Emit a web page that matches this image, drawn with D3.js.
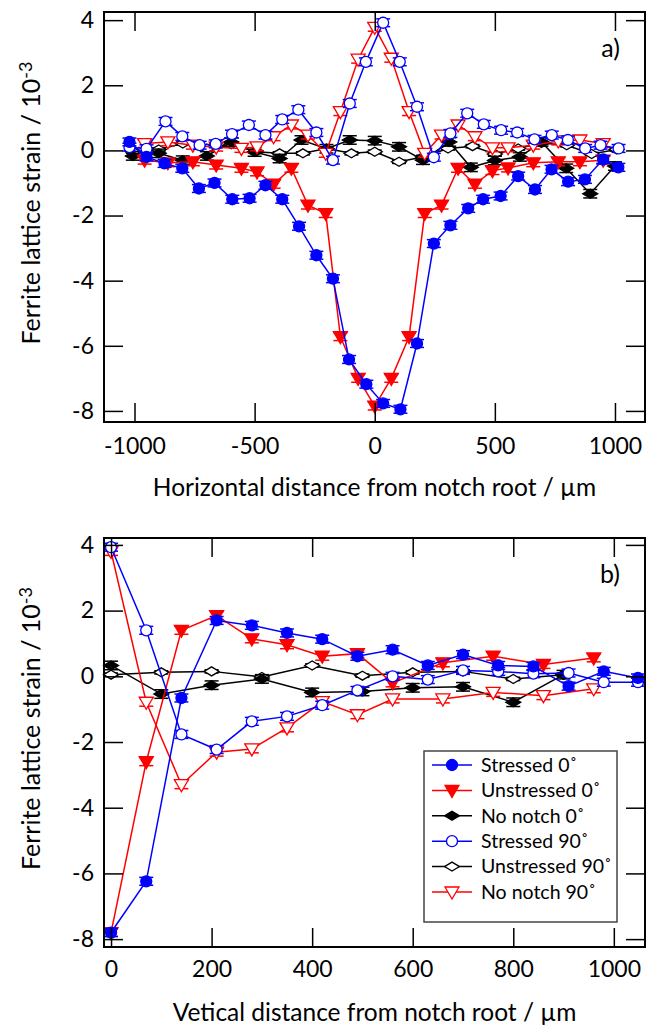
<!DOCTYPE html>
<html>
<head>
<meta charset="utf-8">
<script src="https://cdn.jsdelivr.net/npm/d3@7"></script>
<style>
    body { margin: 0; background: #fff; }
    text { font-family: Lato, "Open Sans", sans-serif; fill: #000; }
</style>
</head>
<body>
<div id="chart"></div>
<script>
// ---- panel a) : horizontal distance ----
var topStressed0X = [-1021, -950, -875, -801, -732, -667, -593, -521, -455, -385, -315, -243, -174, -107, -35, 35, 107, 176, 246, 315, 389, 451, 524, 597, 667, 736, 805, 875, 951, 1014];
var topStressed0Y = [0.26, -0.2, -0.4, -0.55, -1.17, -1.0, -1.5, -1.47, -1.07, -1.5, -2.33, -3.22, -3.94, -6.42, -7.18, -7.77, -7.95, -5.93, -2.86, -2.3, -1.78, -1.5, -1.4, -0.79, -1.2, -0.58, -0.96, -0.89, -0.28, -0.52];
var topUnstressed0X = [-958, -861, -757, -660, -555, -490, -421, -347, -278, -204, -143, -69, 0, 69, 143, 208, 278, 347, 417, 490, 555, 660, 764, 854, 951];
var topUnstressed0Y = [-0.3, -0.38, -0.35, -0.45, -0.55, -0.66, -1.04, -0.55, -1.68, -1.94, -5.72, -7.0, -7.85, -7.0, -5.72, -1.94, -1.68, -0.55, -1.04, -0.62, -0.54, -0.38, -0.35, -0.35, -0.3];
var topNoNotch0X = [-1007, -899, -799, -699, -597, -500, -396, -305, -201, -104, 0, 101, 201, 310, 400, 500, 604, 694, 797, 897, 1000];
var topNoNotch0Y = [-0.17, -0.09, -0.3, -0.17, 0.26, -0.05, -0.25, 0.32, 0.05, 0.32, 0.3, 0.11, -0.3, 0.26, -0.52, -0.31, -0.2, 0.26, -0.55, -1.33, -0.48];
var topStressed90X = [-1021, -950, -871, -801, -729, -662, -594, -524, -455, -385, -318, -243, -174, -104, -37, 35, 104, 176, 246, 315, 385, 454, 526, 593, 665, 737, 804, 876, 940, 1015];
var topStressed90Y = [0.1, 0.05, 0.89, 0.43, 0.16, 0.2, 0.5, 0.78, 0.47, 0.95, 1.25, 0.55, -0.3, 1.44, 2.72, 3.92, 2.72, 1.34, -0.21, 0.52, 1.14, 0.8, 0.62, 0.55, 0.34, 0.47, 0.32, 0.06, 0.16, 0.06];
var topUnstressed90X = [-1007, -899, -799, -699, -597, -496, -396, -299, -201, -97, 0, 101, 201, 305, 407, 500, 597, 694, 799, 903, 1007];
var topUnstressed90Y = [-0.04, 0.03, 0.21, 0.06, 0.19, -0.04, -0.09, -0.09, 0.06, -0.09, -0.04, -0.35, -0.2, 0.06, 0.13, -0.11, 0.06, 0.23, 0.16, -0.11, 0.03];
var topNoNotch90X = [-958, -861, -757, -660, -555, -490, -421, -347, -278, -204, -143, -69, 0, 69, 143, 208, 278, 347, 417, 490, 555, 660, 764, 854, 951];
var topNoNotch90Y = [0.21, 0.26, 0.16, 0.1, 0.06, 0.11, 0.42, 0.78, 0.47, -0.09, 1.19, 2.8, 3.78, 2.83, 1.19, -0.09, 0.47, 0.78, 0.42, 0.08, 0.08, 0.16, 0.29, 0.32, 0.21];

// ---- panel b) : vertical distance ----
var botStressed0X = [0, 70, 140, 210, 280, 350, 420, 490, 560, 630, 700, 770, 840, 910, 980, 1048];
var botStressed0Y = [-7.8, -6.24, -0.66, 1.7, 1.55, 1.32, 1.13, 0.61, 0.81, 0.33, 0.66, 0.33, 0.3, -0.3, 0.15, -0.05];
var botUnstressed0X = [0, 70, 140, 210, 280, 350, 420, 490, 560, 660, 760, 860, 960];
var botUnstressed0Y = [-7.8, -2.6, 1.4, 1.85, 1.14, 0.96, 0.61, 0.69, -0.2, 0.41, 0.61, 0.36, 0.56];
var botNoNotch0X = [0, 100, 200, 300, 400, 500, 600, 700, 800, 900];
var botNoNotch0Y = [0.33, -0.54, -0.27, -0.08, -0.49, -0.46, -0.35, -0.32, -0.79, 0.05];
var botStressed90X = [0, 70, 140, 210, 280, 350, 420, 490, 560, 630, 700, 770, 840, 910, 980, 1048];
var botStressed90Y = [3.93, 1.4, -1.77, -2.23, -1.37, -1.22, -0.88, -0.43, 0.0, -0.1, 0.18, 0.15, 0.08, 0.1, -0.18, -0.18];
var botUnstressed90X = [0, 100, 200, 300, 400, 500, 600, 700, 800, 900];
var botUnstressed90Y = [0.05, 0.12, 0.15, -0.02, 0.33, 0.02, 0.12, 0.15, -0.08, 0.05];
var botNoNotch90X = [0, 70, 140, 210, 280, 350, 420, 490, 560, 660, 760, 860, 960];
var botNoNotch90Y = [3.8, -0.79, -3.3, -2.31, -2.21, -1.57, -0.77, -1.17, -0.69, -0.69, -0.49, -0.59, -0.38];

// error bar half widths (strain units) per series
var errStressed0 = 0.12, errUnstressed0 = 0.12, errNoNotch0 = 0.13,
    errStressed90 = 0.12, errUnstressed90 = 0.05, errNoNotch90 = 0.12;

var seriesNames = ["Stressed 0\u02DA", "Unstressed 0\u02DA", "No notch 0\u02DA", "Stressed 90\u02DA", "Unstressed 90\u02DA", "No notch 90\u02DA"];
var yTicks = [-8, -6, -4, -2, 0, 2, 4];
var topXTicks = [-1000, -500, 0, 500, 1000];
var botXTicks = [0, 200, 400, 600, 800, 1000];

// series styles (same order as names)
var styles = [
    { color: "#0000ff", shape: "circle", fill: true },
    { color: "#ff0000", shape: "triangle", fill: true },
    { color: "#000000", shape: "diamond", fill: true },
    { color: "#0000ff", shape: "circle", fill: false },
    { color: "#000000", shape: "diamond", fill: false },
    { color: "#ff0000", shape: "triangle", fill: false }
];

function zip(xs, ys) {
    return xs.map(function (d, i) { return { x: d, y: ys[i] }; });
}

function markerPath(shape) {
    if (shape == "circle") return d3.symbol(d3.symbolCircle, Math.PI * 5.5 * 5.5)();
    if (shape == "triangle") return "M-7,-5L7,-5L0,7Z";
    return "M-7.5,0L0,-4.5L7.5,0L0,4.5Z";
}

var svg = d3.select("#chart")
    .append("svg")
    .attr("width", 646)
    .attr("height", 1029);

function drawPanel(p) {
    var x = d3.scaleLinear().domain(p.xDomain).range([p.left, p.right]);
    var y = d3.scaleLinear().domain(p.yDomain).range([p.bottom, p.top]);
    var g = svg.append("g");

    var line = d3.line()
        .x(function (d) { return x(d.x); })
        .y(function (d) { return y(d.y); });

    // draw order: back to front
    var order = [4, 2, 5, 1, 3, 0];
    order.forEach(function (k) {
        var s = p.series[k], st = styles[k];
        var sg = g.append("g");
        sg.append("path")
            .datum(s.data)
            .attr("fill", "none")
            .attr("stroke", st.color)
            .attr("stroke-width", 1.5)
            .attr("d", line);

        // error bars
        var eb = sg.selectAll(".eb").data(s.data).enter().append("g")
            .attr("stroke", st.color)
            .attr("stroke-width", 1.5);
        eb.append("line")
            .attr("x1", function (d) { return x(d.x); })
            .attr("x2", function (d) { return x(d.x); })
            .attr("y1", function (d) { return y(d.y - s.err); })
            .attr("y2", function (d) { return y(d.y + s.err); });
        [-1, 1].forEach(function (sgn) {
            eb.append("line")
                .attr("x1", function (d) { return x(d.x) - 7; })
                .attr("x2", function (d) { return x(d.x) + 7; })
                .attr("y1", function (d) { return y(d.y + sgn * s.err); })
                .attr("y2", function (d) { return y(d.y + sgn * s.err); });
        });

        sg.selectAll(".mk").data(s.data).enter().append("path")
            .attr("d", markerPath(st.shape))
            .attr("transform", function (d) { return "translate(" + x(d.x) + "," + y(d.y) + ")"; })
            .attr("fill", st.fill ? st.color : "#fff")
            .attr("stroke", st.color)
            .attr("stroke-width", 1.3);
    });

    // axes, ticks pointing inward on all four sides
    var fmt = function (d) { return String(d); };
    var axB = g.append("g").attr("transform", "translate(0," + p.bottom + ")")
        .call(d3.axisBottom(x).tickValues(p.xTicks).tickSize(-19).tickPadding(p.xPad).tickFormat(fmt));
    var axT = g.append("g").attr("transform", "translate(0," + p.top + ")")
        .call(d3.axisTop(x).tickValues(p.xTicks).tickSize(-19).tickFormat(""));
    var axL = g.append("g").attr("transform", "translate(" + p.left + ",0)")
        .call(d3.axisLeft(y).tickValues(yTicks).tickSize(-19).tickPadding(10).tickFormat(fmt));
    var axR = g.append("g").attr("transform", "translate(" + p.right + ",0)")
        .call(d3.axisRight(y).tickValues(yTicks).tickSize(-19).tickFormat(""));
    [axB, axT, axL, axR].forEach(function (a) {
        a.select(".domain").remove();
        a.selectAll(".tick line").attr("stroke", "#000").attr("stroke-width", 1.5);
        a.selectAll(".tick text").style("font-size", "23px").style("font-family", "Lato, sans-serif").attr("fill", "#000");
    });

    g.append("rect")
        .attr("x", p.left).attr("y", p.top)
        .attr("width", p.right - p.left).attr("height", p.bottom - p.top)
        .attr("fill", "none").attr("stroke", "#000").attr("stroke-width", 2);

    // x axis title
    g.append("text")
        .attr("text-anchor", "middle")
        .attr("x", (p.left + p.right) / 2)
        .attr("y", p.bottom + 74)
        .style("font-size", "24.5px")
        .text(p.xTitle);

    // y axis title
    var yt = g.append("text")
        .attr("text-anchor", "middle")
        .attr("transform", "translate(40," + ((p.top + p.bottom) / 2 - 14) + ") rotate(-90)")
        .style("font-size", "25px");
    yt.append("tspan").text("Ferrite lattice strain / 10");
    yt.append("tspan").attr("dy", "-0.45em").style("font-size", "18px").text("-3");

    // panel letter
    g.append("text")
        .attr("text-anchor", "end")
        .attr("x", p.right - 25)
        .attr("y", p.top + 45)
        .style("font-size", "25px")
        .text(p.letter);

    return { x: x, y: y };
}

drawPanel({
    left: 104, right: 645, top: 12, bottom: 422,
    xDomain: [-1127, 1125], yDomain: [-8.34, 4.25],
    xTicks: topXTicks, xPad: 16,
    xTitle: "Horizontal distance from notch root / \u00B5m",
    letter: "a)",
    series: [
        { data: zip(topStressed0X, topStressed0Y), err: errStressed0 },
        { data: zip(topUnstressed0X, topUnstressed0Y), err: errUnstressed0 },
        { data: zip(topNoNotch0X, topNoNotch0Y), err: errNoNotch0 },
        { data: zip(topStressed90X, topStressed90Y), err: errStressed90 },
        { data: zip(topUnstressed90X, topUnstressed90Y), err: errUnstressed90 },
        { data: zip(topNoNotch90X, topNoNotch90Y), err: errNoNotch90 }
    ]
});

drawPanel({
    left: 104, right: 645, top: 538, bottom: 947,
    xDomain: [-14, 1062], yDomain: [-8.24, 4.21],
    xTicks: botXTicks, xPad: 14,
    xTitle: "Vetical distance from notch root / \u00B5m",
    letter: "b)",
    series: [
        { data: zip(botStressed0X, botStressed0Y), err: errStressed0 },
        { data: zip(botUnstressed0X, botUnstressed0Y), err: errUnstressed0 },
        { data: zip(botNoNotch0X, botNoNotch0Y), err: errNoNotch0 },
        { data: zip(botStressed90X, botStressed90Y), err: errStressed90 },
        { data: zip(botUnstressed90X, botUnstressed90Y), err: errUnstressed90 },
        { data: zip(botNoNotch90X, botNoNotch90Y), err: errNoNotch90 }
    ]
});

// legend
var legend = svg.append("g").attr("transform", "translate(424,751)");
legend.append("rect")
    .attr("width", 193).attr("height", 171)
    .attr("fill", "#fff").attr("stroke", "#444").attr("stroke-width", 1.5);
seriesNames.forEach(function (name, i) {
    var st = styles[i];
    var row = legend.append("g").attr("transform", "translate(0," + (14 + i * 25.4) + ")");
    row.append("line")
        .attr("x1", 8).attr("x2", 48)
        .attr("stroke", st.color).attr("stroke-width", 1.5);
    row.append("path")
        .attr("d", markerPath(st.shape))
        .attr("transform", "translate(28,0)")
        .attr("fill", st.fill ? st.color : "#fff")
        .attr("stroke", st.color).attr("stroke-width", 1.3);
    row.append("text")
        .attr("x", 57).attr("dy", "0.35em")
        .style("font-size", "19.5px")
        .text(name);
});
</script>
</body>
</html>
